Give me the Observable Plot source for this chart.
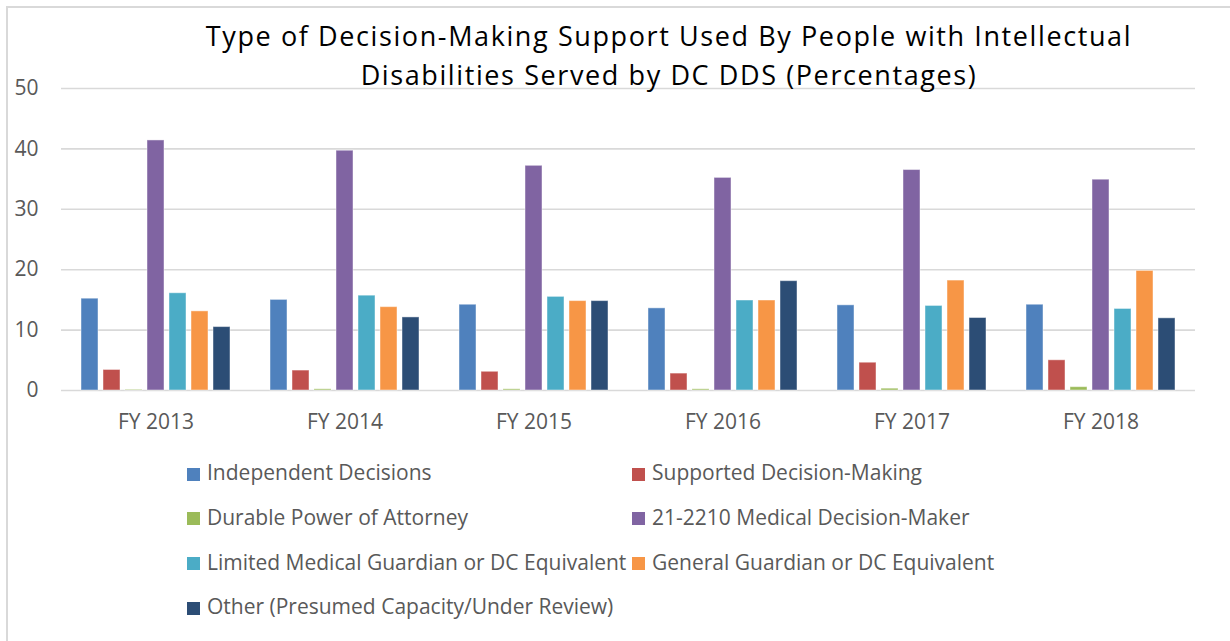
<!DOCTYPE html>
<html>
<head>
<meta charset="utf-8">
<script src="https://cdn.jsdelivr.net/npm/d3@7"></script>
<script src="https://cdn.jsdelivr.net/npm/@observablehq/plot@0.6"></script>
<style>
  html, body { margin: 0; padding: 0; background: #fff; }
  body { width: 1230px; height: 641px; position: relative; overflow: hidden; font-family: "Open Sans", sans-serif; }
  #frame { position: absolute; left: 6px; top: 6px; width: 1400px; height: 800px; border-left: 2px solid #d9d9d9; border-top: 2px solid #d9d9d9; z-index: 5; pointer-events: none; }
  #chart { position: absolute; left: 0; top: 0; }
  #title { position: absolute; left: 0; top: 16px; width: 1338px; text-align: center; font-size: 27px; letter-spacing: 1.6px; line-height: 39px; color: #000; z-index: 3; }
  .leg { position: absolute; font-size: 21px; line-height: 44.7px; color: #595959; white-space: nowrap; }
  .sw { position: absolute; width: 13px; height: 13px; }
</style>
</head>
<body>
<div id="frame"></div>
<div id="title">Type of Decision-Making Support Used By People with Intellectual<br>Disabilities Served by DC DDS (Percentages)</div>
<div id="chart"></div>
<div id="legend"></div>
<script>
const years = ["FY 2013", "FY 2014", "FY 2015", "FY 2016", "FY 2017", "FY 2018"];
const seriesNames = [
  "Independent Decisions",
  "Supported Decision-Making",
  "Durable Power of Attorney",
  "21-2210 Medical Decision-Maker",
  "Limited Medical Guardian or DC Equivalent",
  "General Guardian or DC Equivalent",
  "Other (Presumed Capacity/Under Review)"
];
const colors = ["#4F81BD", "#C0504D", "#9BBB59", "#8064A2", "#4BACC6", "#F79646", "#2C4D75"];

const independent = [15.2, 15.0, 14.2, 13.6, 14.1, 14.2];
const supported   = [3.4, 3.3, 3.1, 2.8, 4.6, 5.0];
const durable     = [0.1, 0.2, 0.2, 0.2, 0.3, 0.55];
const medical2210 = [41.4, 39.7, 37.2, 35.2, 36.5, 34.9];
const limited     = [16.1, 15.7, 15.5, 14.9, 14.0, 13.5];
const general     = [13.1, 13.8, 14.8, 14.9, 18.2, 19.8];
const other       = [10.5, 12.1, 14.8, 18.1, 12.0, 11.95];
const yTicks = [0, 10, 20, 30, 40, 50];

const seriesValues = [independent, supported, durable, medical2210, limited, general, other];
const data = [];
years.forEach((yr, i) => {
  seriesNames.forEach((s, j) => data.push({year: yr, series: s, value: seriesValues[j][i]}));
});

const chart = Plot.plot({
  width: 1230,
  height: 445,
  marginLeft: 61,
  marginRight: 35,
  marginTop: 88,
  marginBottom: 55,
  style: {fontFamily: "Open Sans", fontSize: "21px", color: "#595959", background: "transparent", overflow: "visible"},
  fx: {domain: years, padding: 0, label: null},
  x: {domain: seriesNames, paddingInner: 0.216, paddingOuter: 0.865, axis: null},
  y: {domain: [0, 50], label: null},
  color: {domain: seriesNames, range: colors},
  marks: [
    Plot.gridY(yTicks, {stroke: "#d9d9d9", strokeOpacity: 1, strokeWidth: 1.6}),
    Plot.barY(data, {fx: "year", x: "series", y: "value", fill: "series", stroke: "white", strokeOpacity: 0.45, strokeWidth: 1}),
    Plot.axisY(yTicks, {tickSize: 0, tickPadding: 23, label: null, fontSize: 21}),
    Plot.axisFx({anchor: "bottom", tickSize: 0, tickPadding: 24, label: null, fontSize: 21})
  ]
});
document.getElementById("chart").appendChild(chart);

const legend = document.getElementById("legend");
const colX = [187, 632];
const textOffset = 20;
const baseTop = 450.2;
const rowH = 44.7;
seriesNames.forEach((s, i) => {
  const col = i % 2, row = Math.floor(i / 2);
  const sw = document.createElement("div");
  sw.className = "sw";
  sw.style.left = colX[col] + "px";
  sw.style.top = (baseTop + row * rowH + 17.3) + "px";
  sw.style.background = colors[i];
  legend.appendChild(sw);
  const t = document.createElement("div");
  t.className = "leg";
  t.style.left = (colX[col] + textOffset) + "px";
  t.style.top = (baseTop + row * rowH) + "px";
  t.textContent = s;
  legend.appendChild(t);
});
</script>
</body>
</html>
